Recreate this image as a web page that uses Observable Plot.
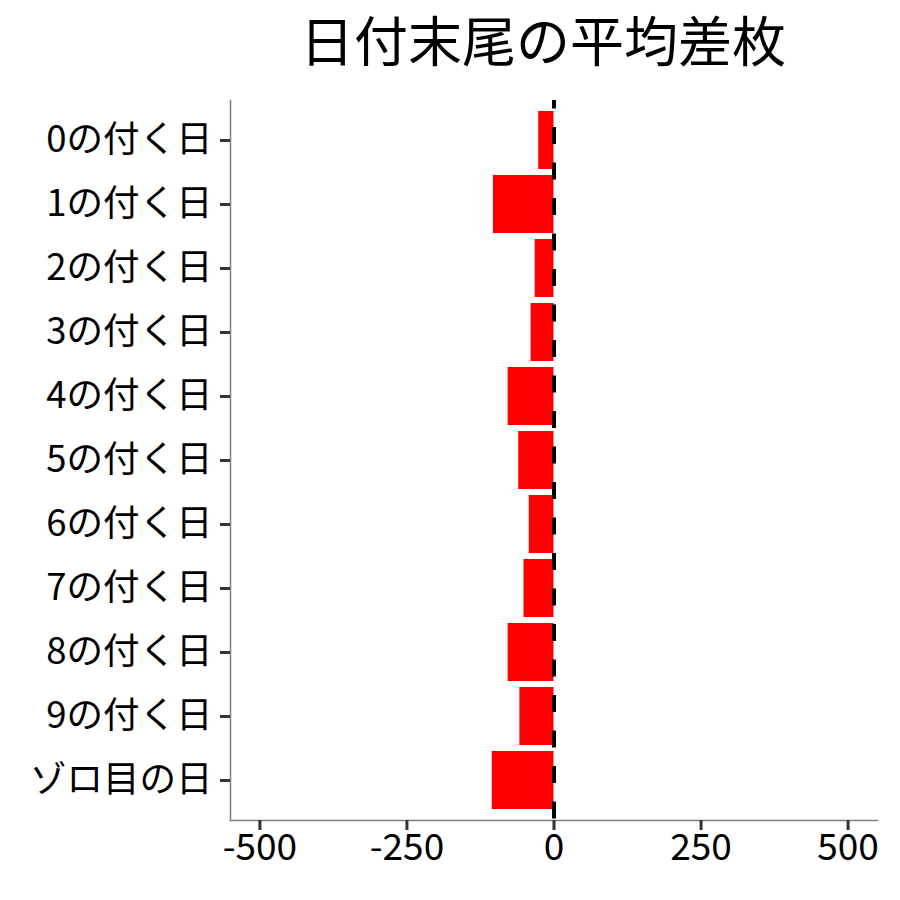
<!DOCTYPE html>
<html>
<head>
<meta charset="utf-8">
<script src="https://cdn.jsdelivr.net/npm/d3@7"></script>
<script src="https://cdn.jsdelivr.net/npm/@observablehq/plot@0.6"></script>
<style>
  html, body { margin: 0; padding: 0; background: #fff; }
  #title { height: 90px; width: 900px; position: relative; font-family: "Noto Sans CJK JP", sans-serif; }
  #title span { position: absolute; left: 0; width: 1086px; text-align: center; top: 7px; font-size: 54px; line-height: 64px; color: #000; white-space: nowrap; }
</style>
</head>
<body>
<div id="title"><span>日付末尾の平均差枚</span></div>
<div id="chart"></div>
<script>
const categories = ["0の付く日","1の付く日","2の付く日","3の付く日","4の付く日","5の付く日","6の付く日","7の付く日","8の付く日","9の付く日","ゾロ目の日"];
const values = [-26, -103, -32, -39, -78, -60, -42, -51, -78, -58, -105];
const xTicks = [-500, -250, 0, 250, 500];

const data = categories.map((c, i) => ({label: c, value: values[i]}));

const chart = Plot.plot({
  width: 900,
  height: 810,
  marginTop: 10,
  marginBottom: 80,
  marginLeft: 230,
  marginRight: 23,
  style: {fontFamily: "'Noto Sans CJK JP', sans-serif", color: "#000", background: "#fff"},
  x: {domain: [-550, 550]},
  y: {domain: categories, paddingInner: 0.1, paddingOuter: 0.15},
  marks: [
    Plot.barX(data, {x1: 0, x2: "value", y: "label", fill: "#ff0000"}),
    Plot.ruleX([0], {stroke: "#000", strokeWidth: 4, strokeDasharray: "17,18.5", strokeDashoffset: 8.5}),
    Plot.frame({anchor: "left", stroke: "#7f7f7f", strokeWidth: 1.5}),
    Plot.frame({anchor: "bottom", stroke: "#7f7f7f", strokeWidth: 1.5}),
    Plot.axisX({ticks: xTicks, tickFormat: d => String(d), tickSize: 10, tickPadding: 3, stroke: "#333", strokeWidth: 3, fill: "#000", fontSize: 37, label: null}),
    Plot.axisY({tickSize: 10, tickPadding: 8, stroke: "#333", strokeWidth: 3, fill: "#000", fontSize: 36.5, label: null})
  ]
});
document.getElementById("chart").appendChild(chart);
</script>
</body>
</html>
